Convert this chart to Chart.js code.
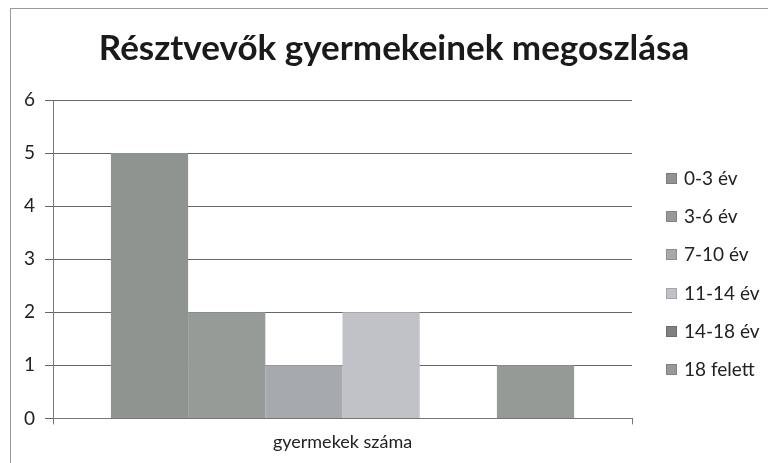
<!DOCTYPE html>
<html>
<head>
<meta charset="utf-8">
<script src="https://cdn.jsdelivr.net/npm/chart.js@4"></script>
<style>
  html, body { margin: 0; padding: 0; background: #fff; }
  #wrap { position: relative; width: 768px; height: 463px; overflow: hidden; }
  #frame { position: absolute; left: 10px; top: 8px; width: 780px; height: 480px;
           border-left: 1px solid #9a9a9a; border-top: 1px solid #9a9a9a; }
  #chart { position: absolute; left: 0; top: 0; }
  #title { position: absolute; left: 0; width: 788px; top: 25px; text-align: center; margin: 0;
           font-family: Lato, "Open Sans", sans-serif; font-size: 35px; font-weight: bold;
           line-height: 42px; color: #1a1a1a; white-space: nowrap; }
  #legend { position: absolute; left: 666px; top: 166px; margin: 0; padding: 0; list-style: none;
            font-family: Lato, "Open Sans", sans-serif; font-size: 19px; color: #222; }
  #legend li { height: 38.2px; line-height: 24px; white-space: nowrap; }
  #legend .sw { display: inline-block; width: 9px; height: 9px; margin-right: 7px; vertical-align: 1px;
                border: 1px solid rgba(0,0,0,0.15); }
</style>
</head>
<body>
<div id="wrap">
  <div id="frame"></div>
  <canvas id="chart" width="768" height="463"></canvas>
  <h1 id="title">Résztvevők gyermekeinek megoszlása</h1>
  <ul id="legend"></ul>
</div>
<script>
// ── Data ─────────────────────────────────────────────
const categories = ['gyermekek száma'];
const seriesNames = ['0-3 év', '3-6 év', '7-10 év', '11-14 év', '14-18 év', '18 felett'];
const seriesValues = [5, 2, 1, 2, 0, 1];
const seriesColors = ['#8f9490', '#979b97', '#a6a9ad', '#c0c2c7', '#7e827e', '#959a97'];
const yTicks = [0, 1, 2, 3, 4, 5, 6];

const FONT = 'Lato, "Open Sans", sans-serif';

const datasets = seriesNames.map((name, i) => ({
    label: name,
    data: [seriesValues[i]],
    backgroundColor: seriesColors[i],
    borderWidth: 0,
    categoryPercentage: 0.8,
    barPercentage: 1.0
}));

new Chart(document.getElementById('chart'), {
    type: 'bar',
    data: { labels: categories, datasets },
    options: {
        responsive: false,
        animation: false,
        layout: { padding: { left: 14, right: 136, top: 100, bottom: 3 } },
        plugins: {
            title: { display: false },
            legend: { display: false },
            tooltip: { enabled: false }
        },
        scales: {
            x: {
                grid: { display: true, drawOnChartArea: false, color: '#777', tickLength: 6 },
                border: { color: '#777' },
                ticks: { color: '#222', font: { family: FONT, size: 18 }, padding: 7 }
            },
            y: {
                min: yTicks[0],
                max: yTicks[yTicks.length - 1],
                grid: { color: '#666', tickLength: 8 },
                border: { color: '#777' },
                ticks: {
                    stepSize: 1,
                    color: '#222',
                    font: { family: FONT, size: 19 },
                    padding: 10
                }
            }
        }
    }
});

// ── Legend ───────────────────────────────────────────
document.getElementById('legend').innerHTML = seriesNames.map((n, i) =>
    `<li><span class="sw" style="background:${seriesColors[i]}"></span>${n}</li>`).join('');
</script>
</body>
</html>
